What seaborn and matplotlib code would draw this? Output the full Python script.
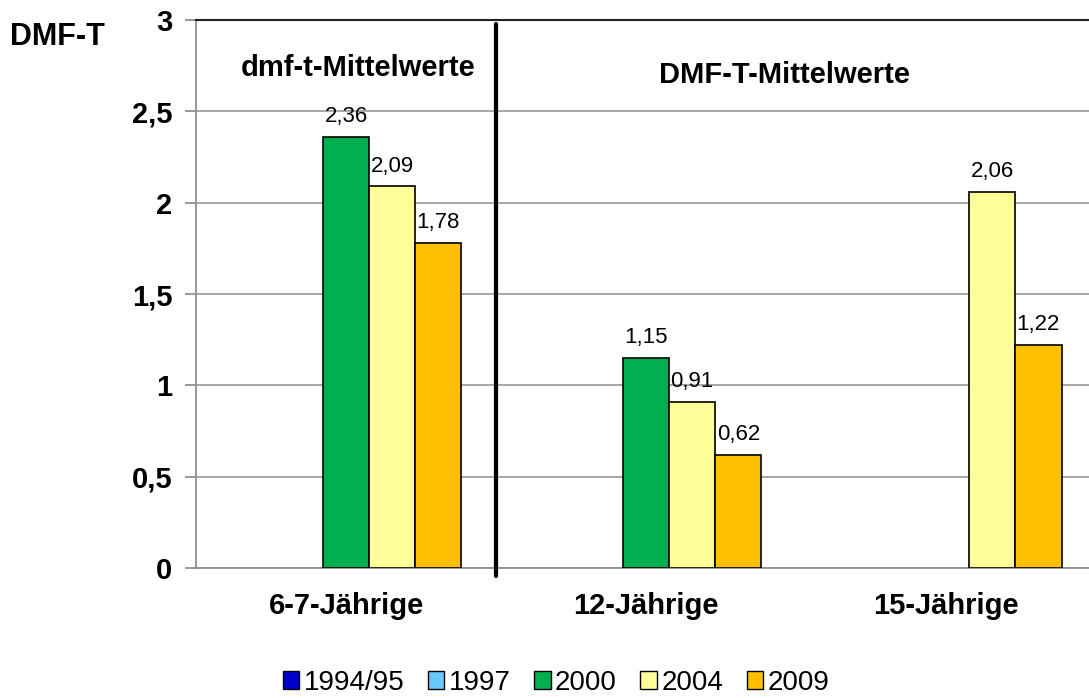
import numpy as np
import pandas as pd
import matplotlib.pyplot as plt
from matplotlib.patches import Patch
from matplotlib.ticker import FuncFormatter
import seaborn as sns

# data
groups = ['6-7-Jährige', '12-Jährige', '15-Jährige']
years = ['1994/95', '1997', '2000', '2004', '2009']
colors = ['#0000CC', '#66CCFF', '#00B050', '#FFFF99', '#FFC000']
v1994 = [np.nan, np.nan, np.nan]
v1997 = [np.nan, np.nan, np.nan]
v2000 = [2.36, 1.15, np.nan]
v2004 = [2.09, 0.91, 2.06]
v2009 = [1.78, 0.62, 1.22]

rows = []
for yr, vals in zip(years, [v1994, v1997, v2000, v2004, v2009]):
    for g, v in zip(groups, vals):
        rows.append({'group': g, 'year': yr, 'value': v})
df = pd.DataFrame(rows)

sns.set_theme(style='white')
plt.rcParams['font.family'] = ['Liberation Sans', 'DejaVu Sans']
plt.rcParams['text.color'] = 'black'
plt.rcParams['xtick.color'] = 'black'
plt.rcParams['ytick.color'] = 'black'

fig = plt.figure(figsize=(10.89, 6.98), dpi=100)
ax = fig.add_axes([196/1089, 1-568/698, 900/1089, 548/698])

sns.barplot(data=df, x='group', y='value', hue='year', order=groups,
            hue_order=years, palette=colors, saturation=1, width=0.77, errorbar=None,
            edgecolor='black', linewidth=1.2, legend=False, ax=ax, zorder=3)

# value labels
for p in ax.patches:
    h = p.get_height()
    if np.isfinite(h) and h > 0:
        ax.annotate(f'{h:.2f}'.replace('.', ','), (p.get_x() + p.get_width()/2, h),
                    xytext=(0, 7), textcoords='offset points', ha='center', va='bottom',
                    fontsize=16, color='black')

ax.set_xlim(-0.5, 2.5)
ax.set_ylim(0, 3)
ax.set_yticks(np.arange(0, 3.01, 0.5))
ax.yaxis.set_major_formatter(FuncFormatter(lambda v, _: f'{v:g}'.replace('.', ',')))
ax.grid(axis='y', color='#a0a0a0', linewidth=1.3, zorder=0)
ax.set_axisbelow(True)

ax.set_xticks(range(len(groups)))
ax.set_xticklabels(groups, fontsize=21, fontweight='bold')
ax.tick_params(axis='x', length=0, pad=17)
ax.set_xticks([-0.5, 0.5, 1.5, 2.5], minor=True)
ax.tick_params(axis='x', which='minor', length=8, color='#909090', width=1.3)
ax.tick_params(axis='y', length=8, color='#909090', width=1.3, pad=9, labelsize=21, left=True)
for lab in ax.get_yticklabels():
    lab.set_fontweight('bold')
ax.set_xlabel('')
ax.set_ylabel('')

for s in ['left', 'bottom']:
    ax.spines[s].set_color('#909090')
    ax.spines[s].set_linewidth(1.3)
ax.spines['right'].set_visible(False)
ax.spines['top'].set_color('#202020')
ax.spines['top'].set_linewidth(1.5)

# separator between dmf-t and DMF-T
ax.axvline(0.5, ymin=-0.015, ymax=0.993, color='black', linewidth=3, clip_on=False, zorder=4)

ax.text(0.04, 2.737, 'dmf-t-Mittelwerte', ha='center', va='center', fontsize=21, fontweight='bold')
ax.text(1.463, 2.70, 'DMF-T-Mittelwerte', ha='center', va='center', fontsize=21, fontweight='bold')
fig.text(10/1089, 1-37/698, 'DMF-T', ha='left', va='center', fontsize=22, fontweight='bold')

handles = [Patch(facecolor=c, edgecolor='black', linewidth=1) for c in colors]
fig.legend(handles, years, loc='center', bbox_to_anchor=(556/1089, 1-683/698), ncol=5,
           frameon=False, fontsize=20, handlelength=0.6, handleheight=0.6,
           handletextpad=0.15, columnspacing=0.85)

fig.savefig('out.png', dpi=100)
